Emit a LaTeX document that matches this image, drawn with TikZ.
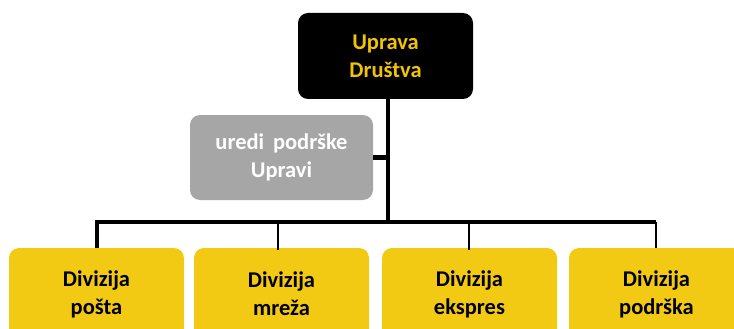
\documentclass[tikz,border=0pt]{standalone}
\usepackage{fontspec}
\setmainfont{Carlito}
\definecolor{divyellow}{RGB}{242,201,19}
\definecolor{txtgold}{RGB}{242,196,0}
\definecolor{boxgray}{RGB}{166,166,166}
\begin{document}
\begin{tikzpicture}[x=1pt,y=-1pt,
  box/.style={rounded corners=10pt, minimum width=175pt, minimum height=86pt, inner sep=0pt, align=center,
    font=\fontsize{22.5}{28}\selectfont\bfseries},
  topbox/.style={box, fill=black, text=txtgold},
  graybox/.style={box, fill=boxgray, text=white, minimum width=183pt, minimum height=85pt},
  divbox/.style={box, fill=divyellow, text=black, minimum height=92pt},
  thickline/.style={line width=4.5pt},
  thinline/.style={line width=1.8pt}]
\useasboundingbox (0,0) rectangle (734,329);
\clip (0,0) rectangle (734,329);
\node[topbox] (top) at (385.5,56) {Uprava\\Društva};
\node[graybox] (gray) at (281.5,157.5) {uredi\, podrške\\Upravi};
\node[divbox] (d1) at (96.5,294) {Divizija\\pošta};
\node[divbox] (d2) at (281.5,294) {Divizija\\mreža};
\node[divbox] (d3) at (469.5,294) {Divizija\\ekspres};
\node[divbox] (d4) at (656.5,294) {Divizija\\podrška};
\coordinate (spine) at (388,99);
\coordinate (bus) at (388,222);
\coordinate (busL) at (97,222);
\coordinate (busR) at (656,222);
\draw[thickline] (spine) -- (bus);
\draw[thickline] (gray.east) -- (gray.east -| spine);
\draw[thickline] (busL |- d1.north) -- (busL) -- (busR);
\draw[thinline] (busR) -- (busR |- d4.north);
\draw[thinline] (278,222) -- (278,250);
\draw[thinline] (469,222) -- (469,250);
\end{tikzpicture}
\end{document}
